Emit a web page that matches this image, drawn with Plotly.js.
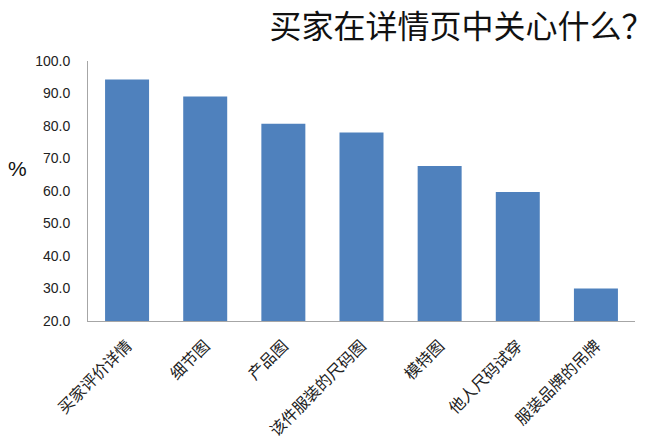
<!DOCTYPE html>
<html>
<head>
<meta charset="utf-8">
<script src="https://cdn.plot.ly/plotly-3.0.1.min.js"></script>
<style>html,body{margin:0;padding:0;background:#fff;}#chart{width:660px;height:441px;}</style>
</head>
<body>
<div id="chart"></div>
<script>
var categories = ["买家评价详情", "细节图", "产品图", "该件服装的尺码图", "模特图", "他人尺码试穿", "服装品牌的吊牌"];
var values = [94.3, 89.1, 80.7, 78.0, 67.7, 59.7, 30.0];
var yTicks = [20, 30, 40, 50, 60, 70, 80, 90, 100];
var titleText = "买家在详情页中关心什么？";
var yLabel = "%";

var trace = {
  type: "bar",
  x: categories,
  y: values,
  marker: {color: "#4F81BD", line: {width: 0}},
  hoverinfo: "none"
};

var layout = {
  width: 660,
  height: 441,
  margin: {l: 88, r: 25, t: 61, b: 120},
  paper_bgcolor: "#ffffff",
  plot_bgcolor: "#ffffff",
  showlegend: false,
  bargap: 0.437,
  font: {family: "Noto Sans CJK SC, sans-serif", color: "#222"},
  title: {
    text: titleText,
    xref: "container", yref: "container",
    x: 0.99, xanchor: "right",
    y: 0.94, yanchor: "middle",
    font: {size: 32, family: "Noto Sans CJK SC", color: "#111"}
  },
  xaxis: {
    tickangle: -45,
    tickfont: {size: 16, family: "Noto Sans CJK SC", color: "#222"},
    showline: true,
    linecolor: "#a6a6a6",
    linewidth: 1,
    ticks: "",
    ticklabelstandoff: 8,
    showgrid: false,
    fixedrange: true
  },
  yaxis: {
    range: [20, 100],
    tickvals: yTicks,
    tickformat: ".1f",
    tickfont: {size: 14, family: "Liberation Sans, Arial, sans-serif", color: "#222"},
    showline: true,
    linecolor: "#a6a6a6",
    linewidth: 1,
    ticks: "",
    ticklabelstandoff: 14,
    showgrid: false,
    zeroline: false,
    fixedrange: true
  },
  annotations: [
    {
      text: yLabel,
      xref: "paper", yref: "paper",
      x: 0, y: 0.585,
      xanchor: "right", yanchor: "middle",
      xshift: -59,
      showarrow: false,
      font: {size: 21, family: "Liberation Sans, Arial, sans-serif", color: "#111"}
    }
  ]
};

Plotly.newPlot("chart", [trace], layout, {displayModeBar: false, staticPlot: true});
</script>
</body>
</html>
